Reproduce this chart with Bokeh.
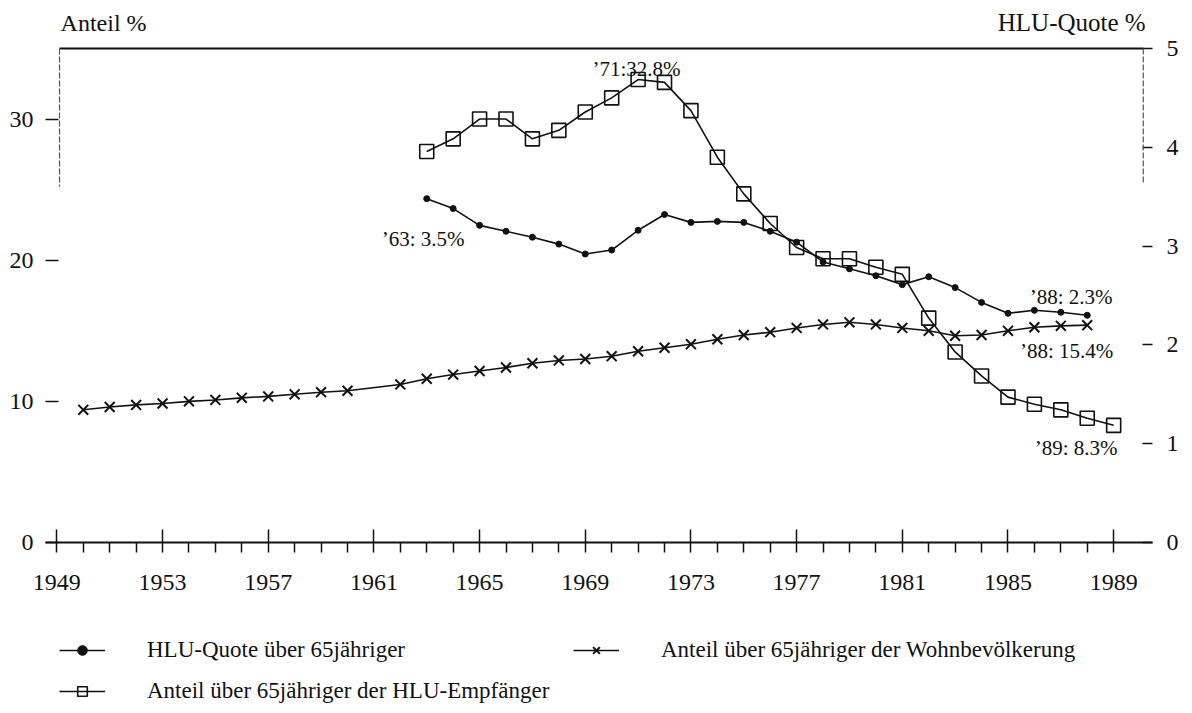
from bokeh.plotting import figure
from bokeh.layouts import column
from bokeh.models import (Range1d, LinearAxis, FixedTicker, Label, Legend,
                          LegendItem, Arrow)
from bokeh.embed import file_html
from bokeh.resources import INLINE

# ---------------- data ----------------
years_quote = list(range(1963, 1989))
hlu_quote = [3.48, 3.38, 3.21, 3.15, 3.09, 3.02, 2.92, 2.96, 3.16, 3.32, 3.24,
             3.25, 3.24, 3.15, 3.04, 2.84, 2.77, 2.70, 2.61, 2.69, 2.58, 2.43,
             2.32, 2.35, 2.33, 2.30]

years_empf = list(range(1963, 1990))
anteil_empf = [27.7, 28.6, 30.0, 30.0, 28.6, 29.2, 30.5, 31.5, 32.8, 32.6, 30.6,
               27.3, 24.7, 22.6, 20.9, 20.1, 20.1, 19.5, 19.0, 15.9, 13.5, 11.8,
               10.3, 9.8, 9.4, 8.8, 8.3]

years_wohn = list(range(1950, 1961)) + list(range(1962, 1989))
anteil_wohn = [9.4, 9.6, 9.75, 9.85, 10.0, 10.1, 10.25, 10.35, 10.5, 10.65, 10.75,
               11.2, 11.6, 11.9, 12.15, 12.4, 12.7, 12.9, 13.0, 13.2, 13.55, 13.8,
               14.05, 14.4, 14.7, 14.9, 15.2, 15.45, 15.6, 15.45, 15.2, 15.0, 14.65,
               14.7, 15.0, 15.25, 15.35, 15.4]

x_labels = list(range(1949, 1990, 4))
x_minor = [y for y in range(1950, 1989) if y not in x_labels]
left_ticks = [0, 10, 20, 30]
right_ticks = [0, 1, 2, 3, 4, 5]

names = ["HLU-Quote über 65jähriger",
         "Anteil über 65jähriger der Wohnbevölkerung",
         "Anteil über 65jähriger der HLU-Empfänger"]
title_left = "Anteil %"
title_right = "HLU-Quote %"

# ---------------- main figure ----------------
FONT = "Liberation Serif"
INK = "#111111"
W = 1184

LEFT_MAX = 35          # top of the drawn box (left scale)
RATIO = 7              # left scale / right scale (35 / 5)
Y_TOP = LEFT_MAX * 537 / 494   # frame extended upward to hold the titles

p = figure(width=W, height=610, output_backend="svg", toolbar_location=None,
           x_range=Range1d(1948.57, 1990.47), y_range=Range1d(0, Y_TOP),
           x_axis_type=None, y_axis_type=None,
           min_border_left=45, min_border_right=32, min_border_top=5,
           min_border_bottom=68)
p.extra_y_ranges = {"quote": Range1d(0, Y_TOP / RATIO)}
p.outline_line_color = None
p.background_fill_color = "white"
p.border_fill_color = "white"

# axes
xaxis = LinearAxis(ticker=FixedTicker(ticks=x_labels, minor_ticks=x_minor))
xaxis.axis_line_color = INK
xaxis.axis_line_width = 2
xaxis.major_tick_in = 13
xaxis.major_tick_out = 10
xaxis.major_tick_line_width = 1.5
xaxis.major_tick_line_color = INK
xaxis.minor_tick_in = 0
xaxis.minor_tick_out = 10
xaxis.minor_tick_line_width = 1.5
xaxis.minor_tick_line_color = INK
xaxis.major_label_standoff = 22
xaxis.major_label_text_font = FONT
xaxis.major_label_text_font_size = "24px"
xaxis.major_label_text_color = INK
p.add_layout(xaxis, "below")

yl = LinearAxis(ticker=FixedTicker(ticks=left_ticks, minor_ticks=[]))
yl.axis_line_color = None
yl.major_tick_in = 13
yl.major_tick_out = 0
yl.major_tick_line_width = 1.5
yl.major_tick_line_color = INK
yl.major_label_standoff = 12
yl.major_label_text_font = FONT
yl.major_label_text_font_size = "24px"
yl.major_label_text_color = INK
p.add_layout(yl, "left")

yr = LinearAxis(y_range_name="quote", ticker=FixedTicker(ticks=right_ticks, minor_ticks=[]))
yr.axis_line_color = None
yr.major_tick_in = 10
yr.major_tick_out = 0
yr.major_tick_line_width = 1.5
yr.major_tick_line_color = INK
yr.major_label_standoff = 14
yr.major_label_text_font = FONT
yr.major_label_text_font_size = "24px"
yr.major_label_text_color = INK
p.add_layout(yr, "right")

# partial frame (top line and upper parts of the side spines)
FX0, FX1 = 1949.1, 1990.12
p.add_layout(Arrow(end=None, x_start=FX0, y_start=LEFT_MAX, x_end=FX1, y_end=LEFT_MAX,
                   line_color=INK, line_width=2))
p.add_layout(Arrow(end=None, x_start=FX0, y_start=LEFT_MAX, x_end=FX0, y_end=25.2,
                   line_color="#555555", line_width=1.2, line_dash="6 2"))
p.add_layout(Arrow(end=None, x_start=FX1, y_start=LEFT_MAX, x_end=FX1, y_end=25.4,
                   line_color="#555555", line_width=1.2, line_dash="6 2"))

# series
WOHN_LINE = dict(line_color=INK, line_width=1.6)
WOHN_MARK = dict(marker="x", size=14, line_color=INK, line_width=2)
EMPF_LINE = dict(line_color=INK, line_width=1.6)
EMPF_MARK = dict(marker="square", size=14, fill_alpha=0, line_color=INK, line_width=1.6)
QUOTE_LINE = dict(line_color=INK, line_width=1.6)
QUOTE_MARK = dict(marker="circle", size=6, fill_color=INK, line_color=INK)

p.line(years_wohn, anteil_wohn, **WOHN_LINE)
p.scatter(years_wohn, anteil_wohn, **WOHN_MARK)
p.line(years_empf, anteil_empf, **EMPF_LINE)
p.scatter(years_empf, anteil_empf, **EMPF_MARK)
p.line(years_quote, hlu_quote, y_range_name="quote", **QUOTE_LINE)
p.scatter(years_quote, hlu_quote, y_range_name="quote", **QUOTE_MARK)

# annotations
def note(x, y, txt):
    p.add_layout(Label(x=x, y=y, text=txt, text_font=FONT, text_font_size="21px",
                       text_color=INK, text_align="center", text_baseline="middle"))

note(1970.94, 33.55, "’71:32.8%")
note(1962.86, 21.49, "’63: 3.5%")
note(1987.39, 17.36, "’88: 2.3%")
note(1987.22, 13.59, "’88: 15.4%")
note(1987.58, 6.72, "’89: 8.3%")

# axis titles above the box
p.add_layout(Label(x=1949.14, y=36.84, text=title_left, text_font=FONT,
                   text_font_size="24px", text_color=INK, text_align="left",
                   text_baseline="middle"))
p.add_layout(Label(x=1990.21, y=36.84, text=title_right, text_font=FONT,
                   text_font_size="25px", text_color=INK, text_align="right",
                   text_baseline="middle"))

# ---------------- legend strip below ----------------
# the same series are drawn here but with a y-range that keeps them out of
# view, so that only the legend samples are visible
q = figure(width=W, height=95, output_backend="svg", toolbar_location=None,
           x_range=p.x_range, y_range=Range1d(-20, -10),
           x_axis_type=None, y_axis_type=None,
           min_border_left=0, min_border_right=0, min_border_top=0,
           min_border_bottom=0)
q.extra_y_ranges = {"quote": Range1d(-20, -10)}
q.outline_line_color = None
q.background_fill_color = "white"
q.border_fill_color = "white"

lq = q.line(years_quote, hlu_quote, y_range_name="quote", **QUOTE_LINE)
sq = q.scatter(years_quote, hlu_quote, y_range_name="quote", **QUOTE_MARK)
le = q.line(years_empf, anteil_empf, **EMPF_LINE)
se = q.scatter(years_empf, anteil_empf, **{**EMPF_MARK, "size": 11})
lw = q.line(years_wohn, anteil_wohn, **WOHN_LINE)
sw = q.scatter(years_wohn, anteil_wohn, **{**WOHN_MARK, "size": 11})

leg = Legend(items=[LegendItem(label=names[0], renderers=[lq, sq]),
                    LegendItem(label=names[2], renderers=[le, se]),
                    LegendItem(label=names[1], renderers=[lw, sw])],
             ncols=2, nrows=2, orientation="vertical", location=(14, 1))
leg.border_line_color = None
leg.background_fill_alpha = 0
leg.label_text_font = FONT
leg.label_text_font_size = "23px"
leg.label_text_color = INK
leg.label_text_baseline = "middle"
leg.glyph_width = 46
leg.glyph_height = 24
leg.label_height = 24
leg.label_width = 411
leg.label_standoff = 42
leg.spacing = 15
leg.padding = 0
leg.margin = 0
q.add_layout(leg, "center")

open("out.html", "w").write(file_html(column(p, q, spacing=0), INLINE))
